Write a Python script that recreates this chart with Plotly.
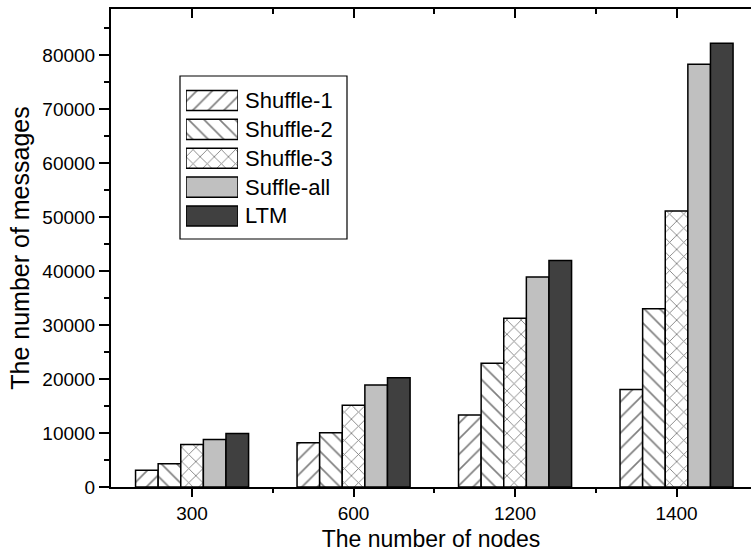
import plotly.graph_objects as go

categories = ["300", "600", "1200", "1400"]
series_names = ["Shuffle-1", "Shuffle-2", "Shuffle-3", "Suffle-all", "LTM"]
shuffle1 = [3100, 8200, 13350, 18050]
shuffle2 = [4300, 10050, 22900, 33000]
shuffle3 = [7850, 15150, 31250, 51100]
shuffle_all = [8800, 18900, 38900, 78250]
ltm = [9900, 20250, 41950, 82150]
y_ticks = [0, 10000, 20000, 30000, 40000, 50000, 60000, 70000, 80000]

values = [shuffle1, shuffle2, shuffle3, shuffle_all, ltm]
styles = [
    dict(color="white", pattern=dict(shape="/", size=11, solidity=0.15, fgcolor="black", bgcolor="white")),
    dict(color="white", pattern=dict(shape="\\", size=11, solidity=0.15, fgcolor="black", bgcolor="white")),
    dict(color="white", pattern=dict(shape="x", size=10, solidity=0.17, fgcolor="black", bgcolor="white")),
    dict(color="#c0c0c0"),
    dict(color="#404040"),
]

xpos = list(range(len(categories)))
FONT = "Liberation Sans, Arial, sans-serif"

fig = go.Figure()
for name, vals, st in zip(series_names, values, styles):
    fig.add_trace(go.Bar(
        x=xpos, y=vals, name=name, showlegend=False,
        marker=dict(line=dict(color="black", width=1.5), **st),
    ))

# invisible trace to create top mirrored axis
fig.add_trace(go.Scatter(x=[xpos[0]], y=[0], xaxis="x2", yaxis="y", mode="markers",
                         marker=dict(opacity=0), hoverinfo="skip", showlegend=False))

# custom legend as an inset of horizontal bars
for name, st in zip(series_names, styles):
    fig.add_trace(go.Bar(
        x=[1], y=[name], orientation="h", xaxis="x3", yaxis="y3", showlegend=False,
        hoverinfo="skip", marker=dict(line=dict(color="black", width=1.5), **st),
    ))

xr = [-0.502, 3.461]
minor_x = [0.5, 1.5, 2.5]

def px_x(p):
    return (p - 111) / 640

def px_y(p):
    return (487 - p) / 478

fig.update_layout(
    width=751, height=553,
    margin=dict(l=111, r=0, t=9, b=66),
    paper_bgcolor="white", plot_bgcolor="white",
    barmode="group", bargap=0.30, bargroupgap=0,
    font=dict(family=FONT, color="black"),
    xaxis=dict(
        range=xr, tickmode="array", tickvals=xpos, ticktext=categories,
        ticks="outside", ticklen=8, tickwidth=1.5, tickcolor="black",
        showline=True, linecolor="black", linewidth=2, showgrid=False, zeroline=False,
        tickfont=dict(size=19, family=FONT),
        minor=dict(tickvals=minor_x, ticks="outside", ticklen=4, tickwidth=1.5, tickcolor="black"),
        title=dict(text="The number of nodes", font=dict(size=23, family=FONT), standoff=8),
    ),
    xaxis2=dict(
        range=xr, overlaying="x", side="top", anchor="y", tickmode="array", tickvals=xpos,
        showticklabels=False, ticks="inside", ticklen=9, tickwidth=1.5, tickcolor="black",
        showline=True, linecolor="black", linewidth=2, showgrid=False, zeroline=False,
        minor=dict(tickvals=minor_x, ticks="inside", ticklen=5, tickwidth=1.5, tickcolor="black"),
    ),
    yaxis=dict(
        range=[0, 88500], tickmode="array", tickvals=y_ticks, tickformat="d",
        ticks="outside", ticklen=10, tickwidth=1.5, tickcolor="black",
        showline=True, linecolor="black", linewidth=2, showgrid=False, zeroline=False,
        tickfont=dict(size=19, family=FONT),
        minor=dict(dtick=5000, tick0=0, ticks="outside", ticklen=5, tickwidth=1.5, tickcolor="black"),
        title=dict(text="The number of messages", font=dict(size=25, family=FONT), standoff=6),
    ),
    xaxis3=dict(domain=[px_x(186), px_x(238)], anchor="y3", range=[0, 1], visible=False, fixedrange=True),
    yaxis3=dict(domain=[px_y(230.5), px_y(86)], anchor="x3", type="category",
                categoryorder="array", categoryarray=series_names, autorange="reversed",
                visible=False, fixedrange=True),
)

# legend box
fig.add_shape(type="rect", xref="paper", yref="paper",
              x0=px_x(180), x1=px_x(347), y0=px_y(239), y1=px_y(76),
              line=dict(color="black", width=1.2), fillcolor="rgba(0,0,0,0)", layer="below")
for name in series_names:
    fig.add_annotation(x=px_x(243), y=name, xref="paper", yref="y3", text=name,
                       showarrow=False, xanchor="left", yanchor="middle",
                       font=dict(size=22, family=FONT, color="black"))

fig.write_html("out.html")
